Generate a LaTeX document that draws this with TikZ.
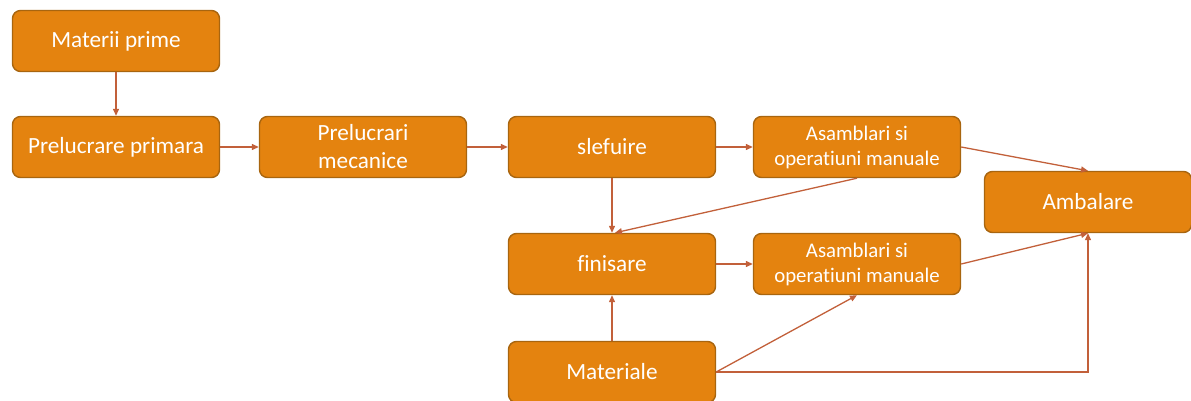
\documentclass[tikz,border=0pt]{standalone}
\usepackage{fontspec}
\setmainfont{Carlito}[Ligatures={NoCommon}]
\usetikzlibrary{arrows.meta}
\definecolor{boxfill}{HTML}{E4830F}
\definecolor{boxline}{HTML}{A8650F}
\definecolor{arr}{HTML}{C2603A}
\begin{document}
\begin{tikzpicture}[x=1pt,y=-1pt,
  box/.style={draw=boxline, line width=1.4pt, fill=boxfill, rounded corners=8pt,
    minimum width=207pt, minimum height=61pt, inner sep=0pt, text=white,
    align=center, font=\fontsize{23.2}{28}\selectfont},
  smallbox/.style={box, font=\fontsize{20.8}{25}\selectfont},
  conn/.style={draw=arr, line width=1.3pt, -{Triangle[length=7pt,width=6pt]}}]
\useasboundingbox (0,0) rectangle (1191,401);
\node[box] (mp) at (116,41) {Materii prime};
\node[box] (pp) at (116,147) {Prelucrare primara};
\node[box] (pm) at (363,147) {Prelucrari\\mecanice};
\node[box] (sl) at (612,147) {slefuire};
\node[smallbox] (as1) at (857,147) {Asamblari si\\operatiuni manuale};
\node[box] (amb) at (1088,202) {Ambalare};
\node[box] (fin) at (612,264) {finisare};
\node[smallbox] (as2) at (857,264) {Asamblari si\\operatiuni manuale};
\node[box] (mat) at (612,372) {Materiale};
\coordinate (corner) at (1088,372);
\draw[conn] (mp) -- (pp);
\draw[conn] (pp) -- (pm);
\draw[conn] (pm) -- (sl);
\draw[conn] (sl) -- (as1);
\draw[conn] (as1.east) -- (amb.north);
\draw[conn] (as1.south) -- ([xshift=3pt]fin.north);
\draw[conn] (sl) -- (fin);
\draw[conn] (fin) -- (as2);
\draw[conn] (as2.east) -- (amb.south);
\draw[conn] (mat) -- (fin);
\draw[conn] (mat.east) -- (as2.south);
\draw[conn] (mat.east) -- (corner) -- (amb.south);
\end{tikzpicture}
\end{document}
